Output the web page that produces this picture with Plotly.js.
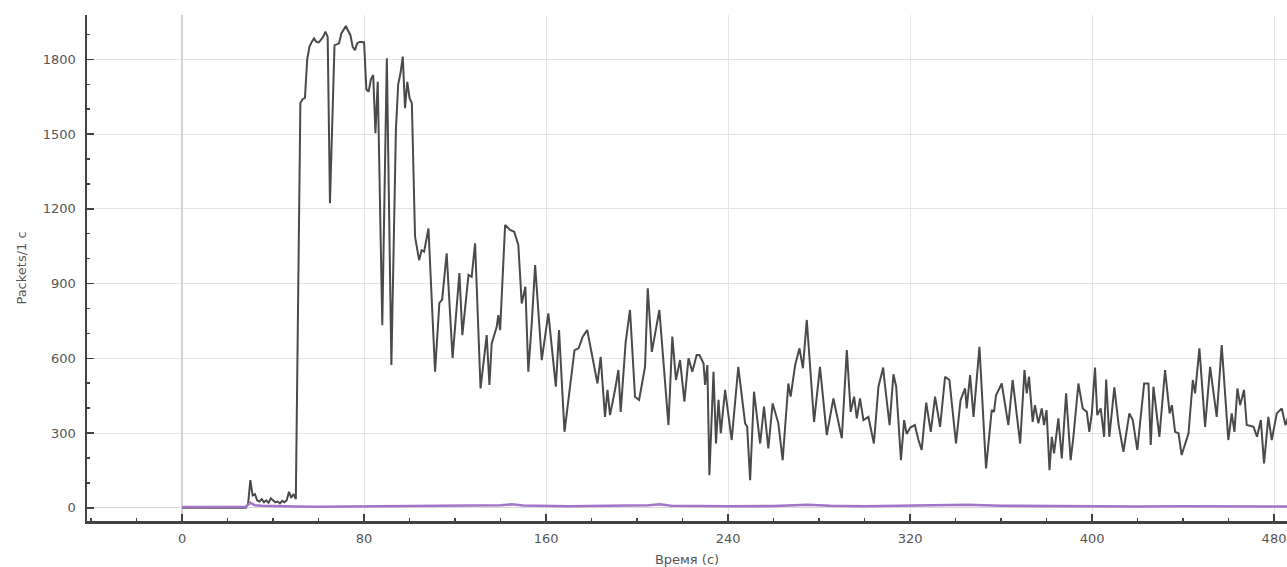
<!DOCTYPE html>
<html>
<head>
<meta charset="utf-8">
<script src="https://cdn.plot.ly/plotly-3.0.1.min.js"></script>
<style>
html,body{margin:0;padding:0;background:#fff;}
#chart{width:1287px;height:567px;}
</style>
</head>
<body>
<div id="chart"></div>
<script>
// Packets per second, all traffic (dark line)
const allTime = [
  0, 28, 29, 30, 31, 32, 33, 34, 35, 36, 37, 38, 39, 40, 41, 42, 43, 44, 45, 46, 47, 48, 49, 50,
  52, 53, 54, 55, 56, 57, 58, 59, 60, 61, 62, 63, 64, 65, 67, 68, 69, 70, 71, 72, 73, 74, 75, 76,
  77, 78, 79, 80, 81, 82, 83, 84, 85, 86, 88, 90, 92, 94, 95, 96, 97, 98, 99, 100, 101, 102.4,
  104.2, 105.3, 106.4, 108.3, 111.2, 113.1, 114.3, 116.3, 118.9, 121.9, 123.2, 125.9, 127.3, 128.8,
  131.2, 133.9, 135.1, 136.1, 138.3, 139, 139.8, 142, 144.2, 146, 147.8, 149.3, 150.9, 152.2, 153.7,
  155.2, 158.1, 161, 164.3, 165.7, 168.1, 172.5, 174.3, 176.1, 178.1, 182.6, 184, 185.9, 187, 188.1,
  190.3, 191.8, 192.8, 195, 196.9, 199.1, 200.9, 203.5, 204.7, 206.5, 209.8, 213.8, 215.5, 217.1,
  218.9, 220.8, 222.6, 224.3, 226.2, 227.4, 229.2, 229.9, 230.9, 231.8, 233.6, 234.7, 235.8, 236.8,
  238.7, 241.6, 244.5, 247.5, 248.4, 249.7, 251.4, 254.1, 255.8, 257.7, 259.6, 262.1, 264, 266.5,
  267.5, 269.5, 271.4, 272.9, 274.6, 277.8, 280.4, 283.4, 286.3, 290, 292.2, 293.9, 295.4, 296.6,
  298, 299.5, 301.7, 304.1, 306.1, 308.2, 308.7, 311, 312.7, 313.9, 316, 317.4, 318.5, 320.1, 322.1,
  322.8, 323.7, 325.1, 327.1, 329.1, 331, 333.2, 335.4, 337.3, 340.2, 342.2, 344.2, 344.9, 346.4,
  347.9, 350.5, 353.4, 355.9, 356.9, 357.8, 360.3, 363.2, 365.1, 368.4, 370.3, 371.3, 372.3, 373.9,
  374.9, 376.4, 377.9, 378.9, 380, 381.3, 382.3, 383.3, 385.2, 386.7, 388.6, 390.6, 391.8, 394,
  395.9, 397.7, 398.8, 399.9, 401.3, 402.3, 403.8, 405.3, 406.2, 407.6, 409.8, 411.7, 413.8, 416.4,
  417.9, 419.9, 422.9, 424.8, 425.8, 427, 429.6, 432.1, 434.1, 435.1, 436.5, 438, 439.4, 442.4,
  444.3, 445.3, 447.2, 449.7, 451.9, 453.1, 454.8, 457, 459.9, 461.4, 462.6, 463.9, 465.1, 466.8,
  468, 471, 472.5, 474.2, 475.6, 477.5, 479, 481.2, 483.4, 485, 486
];
const allPackets = [
  0, 0, 15, 111, 50, 55, 30, 25, 35, 22, 30, 20, 38, 28, 22, 25, 18, 28, 22, 30, 64, 40, 55, 35,
  1625, 1640, 1645, 1800, 1851, 1870, 1884, 1870, 1868, 1878, 1890, 1911, 1890, 1223, 1857, 1860, 1864, 1904, 1920, 1934, 1915, 1897, 1850, 1837,
  1865, 1870, 1870, 1868, 1680, 1670, 1720, 1737, 1504, 1710, 733, 1804, 573, 1520, 1700, 1744, 1811, 1604, 1710, 1644, 1624, 1088,
  994, 1034, 1028, 1121, 546, 822, 836, 1021, 601, 942, 693, 935, 927, 1061,
  479, 693, 493, 660, 727, 773, 713, 1135, 1115, 1108, 1055, 820, 887, 546, 740,
  974, 593, 780, 486, 713, 305, 633, 640, 687, 713, 499, 606, 365, 473, 372,
  473, 553, 385, 666, 794, 446, 433, 566, 881, 626, 794, 332, 687, 513,
  593, 426, 600, 546, 613, 613, 580, 493, 573, 131, 546, 258, 433, 299,
  473, 272, 566, 339, 325, 111, 466, 258, 406, 238, 419, 339, 191, 499,
  446, 573, 640, 560, 754, 345, 566, 292, 439, 279, 633, 385, 446, 359,
  439, 352, 365, 258, 486, 563, 513, 332, 536, 486, 191, 352, 296, 322, 332,
  299, 272, 232, 422, 305, 446, 325, 526, 513, 258, 432, 479, 399, 533,
  365, 646, 158, 392, 385, 452, 499, 332, 513, 258, 553, 459, 526, 345,
  412, 339, 399, 332, 392, 151, 285, 218, 359, 198, 459, 191, 285, 499,
  399, 385, 305, 379, 563, 372, 399, 285, 515, 285, 483, 332, 225, 379,
  352, 232, 499, 499, 252, 486, 285, 553, 379, 412, 305, 299, 212, 299,
  513, 459, 640, 325, 566, 473, 365, 653, 272, 379, 305, 479, 412, 473,
  332, 325, 285, 352, 178, 365, 272, 379, 399, 332, 360
];

// Second graph (purple line), near zero
const subTime = [0, 10, 20, 28, 30, 32, 35, 40, 45, 50, 60, 80, 100, 120, 140, 145, 150, 170, 190, 205, 210, 215, 240, 260, 275, 285, 300, 330, 345, 360, 380, 400, 420, 440, 460, 486];
const subPackets = [3, 3, 3, 4, 20, 10, 8, 8, 6, 5, 4, 5, 6, 8, 10, 14, 9, 6, 7, 10, 14, 8, 6, 7, 12, 8, 6, 8, 12, 8, 6, 7, 5, 6, 5, 5];

const xTitle = 'Время (с)';
const yTitle = 'Packets/1 с';

const axisCommon = {
  showline: true, linecolor: '#424242', linewidth: 2.5,
  ticks: 'inside', ticklen: 7, tickwidth: 1.5, tickcolor: '#424242',
  showgrid: true, gridcolor: '#e4e4e4', gridwidth: 1,
  tickfont: {family: 'DejaVu Sans, sans-serif', size: 13, color: '#555555'},
  fixedrange: true, automargin: false
};

const data = [
  {x: allTime, y: allPackets, type: 'scatter', mode: 'lines',
   line: {color: '#4a4a4a', width: 2}, hoverinfo: 'skip'},
  {x: subTime, y: subPackets, type: 'scatter', mode: 'lines',
   line: {color: '#a374c8', width: 2.6}, hoverinfo: 'skip'}
];

const layout = {
  width: 1287, height: 567,
  margin: {l: 87, r: 0, t: 15, b: 46, pad: 0},
  paper_bgcolor: '#ffffff', plot_bgcolor: '#ffffff',
  showlegend: false,
  hovermode: false,
  xaxis: Object.assign({}, axisCommon, {
    range: [-41.8, 485.7], tick0: 0, dtick: 80,
    zeroline: true, zerolinecolor: '#d2d2d2', zerolinewidth: 1.5,
    ticklabelstandoff: 4,
    minor: {dtick: 20, tick0: 0, ticks: 'inside', ticklen: 3, tickwidth: 1.5, tickcolor: '#424242', showgrid: false},
    title: {text: xTitle, font: {family: 'DejaVu Sans, sans-serif', size: 13, color: '#555555'}, standoff: 10}
  }),
  yaxis: Object.assign({}, axisCommon, {
    range: [-53, 1978], tick0: 0, dtick: 300,
    zeroline: true, zerolinecolor: '#d8d8d8', zerolinewidth: 1,
    ticklabelstandoff: 6,
    minor: {dtick: 100, tick0: 0, ticks: 'inside', ticklen: 3, tickwidth: 1.5, tickcolor: '#424242', showgrid: false},
    title: {text: yTitle, font: {family: 'DejaVu Sans, sans-serif', size: 13, color: '#555555'}, standoff: 14}
  })
};

Plotly.newPlot('chart', data, layout, {staticPlot: true, displayModeBar: false});
</script>
</body>
</html>
